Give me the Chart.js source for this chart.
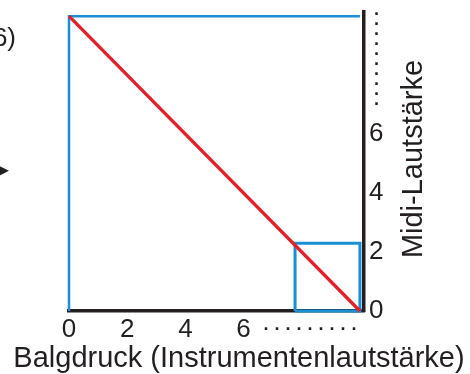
<!DOCTYPE html>
<html>
<head>
<meta charset="utf-8">
<script src="https://cdn.jsdelivr.net/npm/chart.js@4.4.1/dist/chart.umd.min.js"></script>
<style>
  body { margin: 0; background: #fff; }
</style>
</head>
<body>
<canvas id="grafico" width="470" height="374"></canvas>
<script>
// Daten
var linieX = [0, 10];
var linieY = [10, 0];
var rahmenX = [0, 0, 10];
var rahmenY = [0, 10, 10];
var kleinX = [7.77, 7.77, 10, 10, 7.77];
var kleinY = [0, 2.3, 2.3, 0, 0];
var xTicks = [0, 2, 4, 6, 8.3];
var xLabels = ['0', '2', '4', '6', '· · · · · · · · ·'];
var yTicks = [0, 2, 4, 6, 8.5];
var yLabels = ['0', '2', '4', '6', [' ·', ' ·', ' ·', ' ·', ' ·', ' ·', ' ·', ' ·', ' ·', ' ·']];
var xTitel = 'Balgdruck (Instrumentenlautstärke)';
var yTitel = 'Midi-Lautstärke';

var schwarz = '#231f20';
var blau = '#1a8fd2';
var rot = '#e3202a';
var schrift = '"Liberation Sans", Arial, sans-serif';

function punkte(xs, ys) {
  return xs.map(function (x, i) { return { x: x, y: ys[i] }; });
}

// Texte ausserhalb der Achsen
var textePlugin = {
  id: 'texte',
  afterDraw: function (chart) {
    var ctx = chart.ctx;
    ctx.save();
    ctx.fillStyle = schwarz;
    ctx.font = '29px ' + schrift;
    ctx.textAlign = 'center';
    ctx.textBaseline = 'alphabetic';
    ctx.fillText(xTitel, 239, 367);

    ctx.save();
    ctx.translate(422, 159);
    ctx.rotate(-Math.PI / 2);
    ctx.fillText(yTitel, 0, 0);
    ctx.restore();

    ctx.font = '26px ' + schrift;
    ctx.textAlign = 'right';
    ctx.fillText('(6)', 16, 46);

    ctx.font = '16px "DejaVu Sans"';
    ctx.textAlign = 'right';
    ctx.textBaseline = 'middle';
    ctx.fillText('▶', 9, 171);
    ctx.restore();
  }
};

function ohnePadding(scale) {
  scale.paddingTop = 0;
  scale.paddingBottom = 0;
  scale.paddingLeft = 0;
  scale.paddingRight = 0;
}

var ctx = document.getElementById('grafico').getContext('2d');
var chart = new Chart(ctx, {
  type: 'scatter',
  data: {
    datasets: [
      {
        data: punkte(linieX, linieY),
        showLine: true,
        borderColor: rot,
        borderWidth: 3.3,
        pointRadius: 0,
        clip: false
      },
      {
        data: punkte(kleinX, kleinY),
        showLine: true,
        borderColor: blau,
        borderWidth: 3,
        pointRadius: 0,
        clip: false
      },
      {
        data: punkte(rahmenX, rahmenY),
        showLine: true,
        borderColor: blau,
        borderWidth: 2.5,
        pointRadius: 0,
        clip: false
      }
    ]
  },
  options: {
    responsive: false,
    animation: false,
    layout: { padding: { left: 69, top: 12, right: 0, bottom: 0 } },
    plugins: {
      legend: { display: false },
      tooltip: { enabled: false }
    },
    scales: {
      x: {
        type: 'linear',
        position: 'bottom',
        min: 0,
        max: 10.14,
        grid: { display: false, drawTicks: false },
        border: { color: schwarz, width: 3.5, z: -1 },
        afterBuildTicks: function (scale) {
          scale.ticks = xTicks.map(function (v) { return { value: v }; });
        },
        afterFit: function (scale) { scale.height = 63; ohnePadding(scale); },
        ticks: {
          autoSkip: false,
          maxRotation: 0,
          padding: 3,
          color: schwarz,
          font: function (c) {
            if (c.index === 4) return { family: schrift, size: 18, weight: 'bold', lineHeight: '31.2px' };
            return { family: schrift, size: 26 };
          },
          callback: function (value, index) { return xLabels[index]; }
        }
      },
      y: {
        type: 'linear',
        position: 'right',
        min: 0,
        max: 10.14,
        grid: { display: false, drawTicks: false },
        border: { color: schwarz, width: 3.5, z: -1 },
        afterBuildTicks: function (scale) {
          scale.ticks = yTicks.map(function (v) { return { value: v }; });
        },
        afterFit: function (scale) { scale.width = 106; ohnePadding(scale); },
        ticks: {
          autoSkip: false,
          padding: 5,
          color: schwarz,
          font: function (c) {
            if (c.index === 4) return { family: schrift, size: 18, weight: 'bold', lineHeight: '10px' };
            return { family: schrift, size: 26 };
          },
          callback: function (value, index) { return yLabels[index]; }
        }
      }
    }
  },
  plugins: [textePlugin]
});
</script>
</body>
</html>
